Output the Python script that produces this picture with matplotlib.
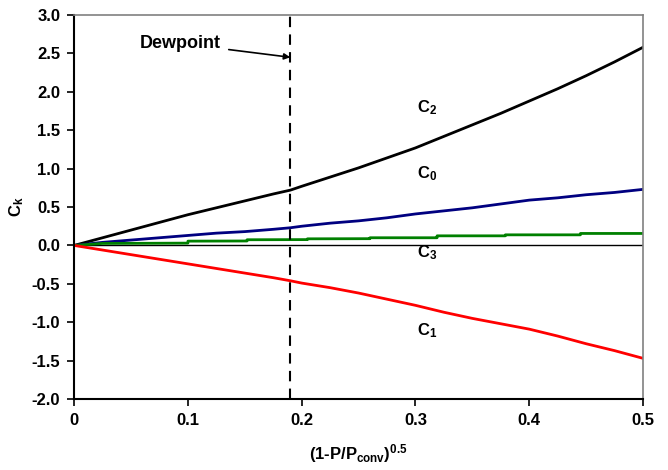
import matplotlib.pyplot as plt
import numpy as np

plt.rcParams["font.family"] = ["Liberation Sans", "DejaVu Sans"]
plt.rcParams["font.weight"] = "bold"
plt.rcParams["axes.labelweight"] = "bold"
plt.rcParams["mathtext.default"] = "bf"
plt.rcParams["mathtext.fontset"] = "custom"
plt.rcParams["mathtext.bf"] = "Liberation Sans:bold"
plt.rcParams["mathtext.rm"] = "Liberation Sans:bold"

# (1-P/Pconv)^0.5
x = [0.0, 0.025, 0.05, 0.075, 0.1, 0.125, 0.15, 0.175, 0.19, 0.2, 0.225, 0.25,
     0.275, 0.3, 0.325, 0.35, 0.375, 0.4, 0.425, 0.45, 0.475, 0.5]
c2 = [0.0, 0.10, 0.20, 0.30, 0.40, 0.49, 0.58, 0.67, 0.72, 0.77, 0.89, 1.01,
      1.14, 1.27, 1.42, 1.57, 1.72, 1.88, 2.04, 2.21, 2.39, 2.58]
c0 = [0.0, 0.04, 0.07, 0.10, 0.13, 0.16, 0.18, 0.21, 0.23, 0.25, 0.29, 0.32,
      0.36, 0.41, 0.45, 0.49, 0.54, 0.59, 0.62, 0.66, 0.69, 0.73]
c1 = [0.0, -0.06, -0.12, -0.18, -0.24, -0.30, -0.36, -0.42, -0.46, -0.49, -0.55,
      -0.62, -0.70, -0.78, -0.87, -0.95, -1.02, -1.09, -1.18, -1.28, -1.37, -1.47]

# C3 is stair-stepped
x3 = [0.0, 0.025, 0.1, 0.1, 0.152, 0.152, 0.205, 0.205, 0.26, 0.26,
      0.319, 0.319, 0.379, 0.379, 0.445, 0.445, 0.5]
c3 = [0.0, 0.026, 0.03, 0.056, 0.058, 0.074, 0.076, 0.086, 0.088, 0.10,
      0.10, 0.125, 0.125, 0.138, 0.138, 0.156, 0.156]

dewpoint = 0.19

fig, ax = plt.subplots(figsize=(6.68, 4.70), dpi=100)
fig.subplots_adjust(left=0.111, right=0.9626, top=0.968, bottom=0.151)

ax.axhline(0, color="black", lw=1.0, zorder=1)
ax.plot(x, c2, color="black", lw=2.0)
ax.plot(x, c0, color="#000080", lw=2.0)
ax.plot(x3, c3, color="#008000", lw=2.0)
ax.plot(x, c1, color="#ff0000", lw=2.0)
ax.axvline(dewpoint, color="black", lw=1.5, ls=(0, (5, 3.5)))

ax.set_xlim(0, 0.5)
ax.set_ylim(-2, 3)
ax.set_xticks([0, 0.1, 0.2, 0.3, 0.4, 0.5])
ax.set_xticklabels(["0", "0.1", "0.2", "0.3", "0.4", "0.5"])
ax.set_yticks(np.arange(-2, 3.01, 0.5))
ax.set_yticklabels([f"{v:.1f}" for v in np.arange(-2, 3.01, 0.5)])
ax.tick_params(direction="out", length=5, width=1.2, labelsize=12, pad=5)
ax.tick_params(top=False, right=False)

for side in ("left", "bottom"):
    ax.spines[side].set_linewidth(1.5)
    ax.spines[side].set_color("black")
for side in ("top", "right"):
    ax.spines[side].set_linewidth(1.2)
    ax.spines[side].set_color("#808080")

ax.set_xlabel(r"(1-P/P$_{\mathbf{conv}}$)$^{\mathbf{0.5}}$", fontsize=12,
              fontweight="bold", labelpad=10)
ax.set_ylabel(r"C$_{\mathbf{k}}$", fontsize=12, fontweight="bold", labelpad=4)

lab = dict(fontsize=12, fontweight="bold", va="center", ha="left")
ax.text(0.301, 1.79, r"C$_2$", **lab)
ax.text(0.301, 0.94, r"C$_0$", **lab)
ax.text(0.301, -0.10, r"C$_3$", **lab)
ax.text(0.301, -1.11, r"C$_1$", **lab)

ax.annotate("Dewpoint", xy=(dewpoint, 2.45), xytext=(0.093, 2.63),
            fontsize=13, fontweight="bold", ha="center", va="center",
            arrowprops=dict(arrowstyle="-|>", color="black", lw=1.2,
                            mutation_scale=9, shrinkA=4, shrinkB=0))

fig.savefig("out.png", dpi=100)
